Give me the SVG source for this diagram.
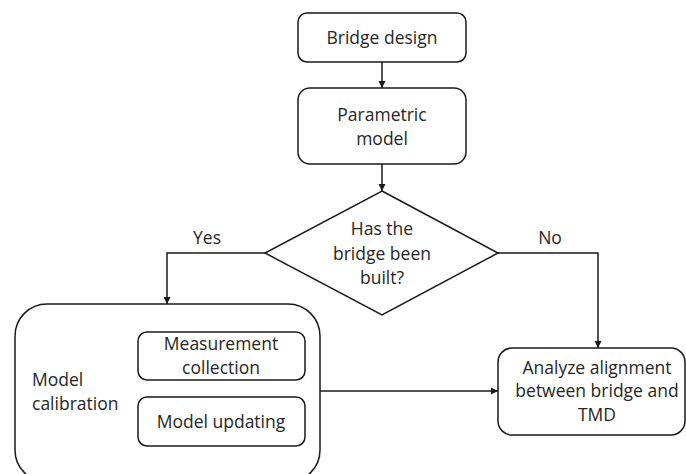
<svg xmlns="http://www.w3.org/2000/svg" width="686" height="474" viewBox="0 0 686 474">
  <style>
    .box { fill: #ffffff; stroke: #1a1a1a; stroke-width: 1.5; }
    .line { fill: none; stroke: #1a1a1a; stroke-width: 1.5; }
    text { font-family: "Open Sans", "Liberation Sans", sans-serif; font-size: 17.5px; fill: #262626; }
    .c { text-anchor: middle; }
  </style>
  <defs>
    <marker id="arrow" viewBox="0 0 10 10" refX="10" refY="5" markerWidth="5" markerHeight="5" orient="auto" markerUnits="strokeWidth">
      <path d="M0,0 L10,5 L0,10 z" fill="#1a1a1a"/>
    </marker>
  </defs>
  <rect width="686" height="474" fill="#ffffff"/>

  <g id="connectors">
    <line class="line" x1="382" y1="62" x2="382" y2="88" marker-end="url(#arrow)"/>
    <line class="line" x1="382" y1="164" x2="382" y2="191" marker-end="url(#arrow)"/>
    <polyline class="line" points="265,253 167,253 167,304" marker-end="url(#arrow)"/>
    <polyline class="line" points="498,253 598,253 598,348" marker-end="url(#arrow)"/>
    <line class="line" x1="221" y1="380" x2="221" y2="397" marker-end="url(#arrow)"/>
    <line class="line" x1="320" y1="391" x2="498" y2="391" marker-end="url(#arrow)"/>
    <text class="c" x="207" y="244">Yes</text>
    <text class="c" x="550" y="244">No</text>
  </g>

  <g id="bridge-design">
    <rect class="box" x="298" y="13" width="168" height="49" rx="9"/>
    <text class="c" x="382" y="44">Bridge design</text>
  </g>

  <g id="parametric-model">
    <rect class="box" x="298" y="88" width="168" height="76" rx="12"/>
    <text class="c" x="382" y="121">Parametric</text>
    <text class="c" x="382" y="145">model</text>
  </g>

  <g id="built-decision">
    <polygon class="box" points="382,191 498,253 382,315 265,253"/>
    <text class="c" x="382" y="235">Has the</text>
    <text class="c" x="382" y="260">bridge been</text>
    <text class="c" x="382" y="284">built?</text>
  </g>

  <g id="model-calibration">
    <rect class="box" x="15" y="304" width="305" height="178" rx="32"/>
    <text x="32" y="386">Model</text>
    <text x="32" y="410">calibration</text>
  </g>

  <g id="measurement-collection">
    <rect class="box" x="138" y="332" width="167" height="48" rx="9"/>
    <text class="c" x="221" y="350">Measurement</text>
    <text class="c" x="221" y="374">collection</text>
  </g>

  <g id="model-updating">
    <rect class="box" x="138" y="397" width="167" height="49" rx="9"/>
    <text class="c" x="221" y="428">Model updating</text>
  </g>

  <g id="analyze-alignment">
    <rect class="box" x="498" y="348" width="187" height="87" rx="14"/>
    <text class="c" x="597" y="374">Analyze alignment</text>
    <text class="c" x="597" y="397">between bridge and</text>
    <text class="c" x="597" y="421">TMD</text>
  </g>
</svg>
